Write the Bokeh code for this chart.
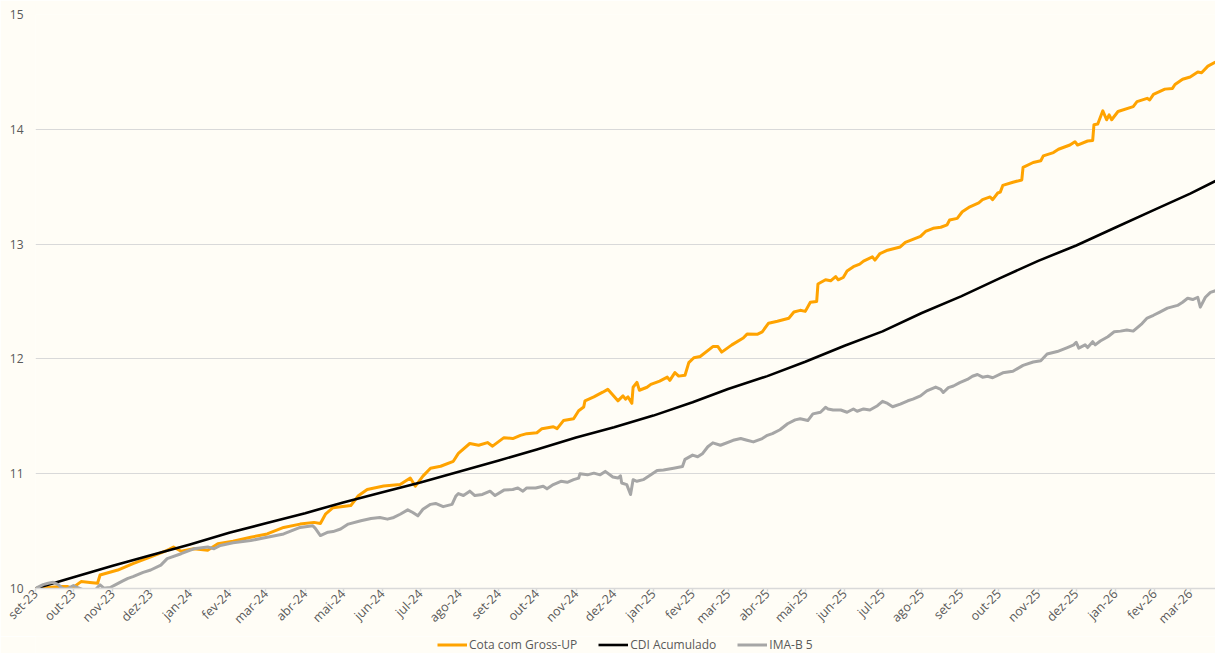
import pandas as pd
from math import pi
from bokeh.plotting import figure
from bokeh.layouts import column
from bokeh.models import Range1d, FixedTicker, Legend, LegendItem
from bokeh.embed import file_html
from bokeh.resources import INLINE

# ---------------- data ----------------
start_date = "2023-09-01"
end_day = 932  # last observation, days after start_date

month_labels = ["set-23", "out-23", "nov-23", "dez-23", "jan-24", "fev-24", "mar-24",
                "abr-24", "mai-24", "jun-24", "jul-24", "ago-24", "set-24", "out-24",
                "nov-24", "dez-24", "jan-25", "fev-25", "mar-25", "abr-25", "mai-25",
                "jun-25", "jul-25", "ago-25", "set-25", "out-25", "nov-25", "dez-25",
                "jan-26", "fev-26", "mar-26"]

y_ticks = [10, 11, 12, 13, 14, 15]

cota_days = [0, 20, 25, 29, 36, 43, 49, 51, 65, 77,
             91, 104, 109, 115, 125, 136, 144, 156, 170, 183,
             196, 209, 220, 225, 229, 235, 249, 255, 262, 275,
             288, 296, 300, 306, 312, 320, 330, 334, 343, 350,
             357, 361, 370, 377, 383, 388, 396, 400, 409, 412,
             417, 425, 429, 433, 434, 441, 448, 452, 460, 464,
             466, 468, 471, 472, 475, 477, 483, 486, 493, 499,
             501, 505, 508, 513, 516, 520, 525, 535, 539, 542,
             550, 559, 562, 570, 574, 579, 586, 595, 599, 604,
             608, 612, 617, 618, 624, 628, 632, 634, 638, 641,
             646, 651, 654, 661, 663, 667, 673, 683, 687, 693,
             699, 703, 709, 715, 720, 722, 728, 732, 738, 745,
             748, 754, 756, 760, 762, 764, 772, 779, 780, 788,
             794, 796, 804, 808, 817, 821, 823, 831, 835, 836,
             839, 843, 846, 848, 850, 855, 867, 870, 878, 880,
             883, 892, 898, 900, 906, 912, 918, 921, 926, 932]
cota_vals = [10.000, 10.017, 10.017, 10.003, 10.060, 10.052, 10.046, 10.118, 10.161, 10.217,
             10.275, 10.333, 10.361, 10.324, 10.346, 10.333, 10.389, 10.412, 10.447, 10.475,
             10.532, 10.561, 10.576, 10.567, 10.647, 10.704, 10.722, 10.808, 10.862, 10.893,
             10.905, 10.962, 10.891, 10.979, 11.048, 11.065, 11.108, 11.177, 11.263, 11.248,
             11.271, 11.240, 11.314, 11.306, 11.334, 11.349, 11.357, 11.392, 11.409, 11.392,
             11.463, 11.478, 11.549, 11.581, 11.635, 11.669, 11.710, 11.735, 11.635, 11.678,
             11.649, 11.669, 11.613, 11.753, 11.796, 11.727, 11.753, 11.778, 11.807, 11.841,
             11.813, 11.881, 11.850, 11.858, 11.967, 12.010, 12.021, 12.107, 12.107, 12.059,
             12.122, 12.182, 12.216, 12.214, 12.236, 12.311, 12.328, 12.354, 12.408, 12.423,
             12.414, 12.494, 12.500, 12.652, 12.689, 12.680, 12.717, 12.689, 12.709, 12.766,
             12.803, 12.826, 12.852, 12.889, 12.861, 12.918, 12.947, 12.975, 13.015, 13.041,
             13.067, 13.110, 13.138, 13.147, 13.168, 13.210, 13.224, 13.282, 13.325, 13.359,
             13.387, 13.411, 13.387, 13.445, 13.453, 13.511, 13.539, 13.559, 13.668, 13.711,
             13.726, 13.769, 13.797, 13.826, 13.863, 13.892, 13.863, 13.898, 13.903, 14.040,
             14.046, 14.161, 14.083, 14.126, 14.083, 14.155, 14.198, 14.241, 14.270, 14.255,
             14.304, 14.350, 14.356, 14.390, 14.436, 14.456, 14.499, 14.493, 14.550, 14.585]

cdi_days = [0, 30, 61, 91, 122, 153, 182, 213, 243, 274, 304, 335, 366, 396, 427, 457,
            488, 519, 547, 578, 608, 639, 669, 700, 731, 761, 792, 822, 853, 884, 912, 932]
cdi_vals = [10.000, 10.097, 10.198, 10.290, 10.384, 10.485, 10.568, 10.656, 10.750, 10.839,
            10.924, 11.020, 11.116, 11.210, 11.315, 11.404, 11.506, 11.623, 11.738, 11.850,
            11.975, 12.115, 12.240, 12.400, 12.545, 12.699, 12.854, 12.988, 13.145, 13.300,
            13.440, 13.550]

imab_days = [0, 6, 10, 14, 18, 21, 24, 30, 33, 39,
             46, 51, 54, 59, 63, 69, 73, 77, 85, 91,
             99, 104, 115, 125, 136, 141, 146, 156, 170, 183,
             196, 209, 219, 221, 225, 231, 235, 241, 247, 257,
             265, 272, 278, 283, 288, 294, 298, 302, 306, 312,
             316, 322, 329, 332, 334, 338, 343, 347, 353, 359,
             363, 370, 377, 381, 385, 388, 395, 401, 404, 409,
             415, 420, 425, 429, 430, 436, 441, 446, 450, 456,
             460, 462, 463, 467, 470, 472, 475, 480, 486, 491,
             496, 504, 511, 513, 519, 523, 527, 531, 535, 541,
             551, 557, 562, 567, 574, 578, 582, 588, 594, 600,
             604, 610, 614, 620, 624, 626, 630, 636, 641, 646,
             649, 654, 659, 665, 669, 673, 677, 683, 689, 693,
             699, 704, 711, 715, 717, 721, 725, 730, 736, 740,
             744, 748, 752, 756, 764, 772, 780, 788, 794, 799,
             807, 815, 820, 822, 824, 829, 831, 835, 837, 841,
             847, 852, 857, 862, 867, 874, 878, 883, 888, 894,
             902, 906, 910, 914, 918, 920, 924, 928, 932]
imab_vals = [10.000, 10.034, 10.046, 10.054, 10.034, 10.003, 9.991, 10.026, 10.009, 9.983,
             9.974, 10.032, 10.003, 10.009, 10.032, 10.066, 10.088, 10.103, 10.140, 10.161,
             10.204, 10.260, 10.303, 10.346, 10.361, 10.346, 10.375, 10.398, 10.418, 10.447,
             10.475, 10.532, 10.547, 10.524, 10.461, 10.490, 10.496, 10.518, 10.561, 10.590,
             10.610, 10.619, 10.604, 10.619, 10.647, 10.685, 10.662, 10.633, 10.690, 10.733,
             10.741, 10.713, 10.733, 10.805, 10.827, 10.810, 10.848, 10.810, 10.819, 10.848,
             10.810, 10.857, 10.862, 10.876, 10.848, 10.876, 10.876, 10.891, 10.868, 10.905,
             10.934, 10.925, 10.948, 10.962, 10.999, 10.990, 11.005, 10.990, 11.020, 10.971,
             10.962, 10.982, 10.919, 10.905, 10.819, 10.948, 10.934, 10.948, 10.990, 11.028,
             11.033, 11.048, 11.062, 11.125, 11.162, 11.148, 11.177, 11.235, 11.269, 11.248,
             11.291, 11.306, 11.291, 11.277, 11.306, 11.334, 11.349, 11.383, 11.435, 11.469,
             11.478, 11.463, 11.521, 11.535, 11.578, 11.564, 11.555, 11.555, 11.535, 11.564,
             11.544, 11.564, 11.555, 11.592, 11.630, 11.612, 11.583, 11.606, 11.635, 11.649,
             11.678, 11.721, 11.755, 11.735, 11.707, 11.750, 11.764, 11.793, 11.821, 11.849,
             11.864, 11.841, 11.849, 11.836, 11.879, 11.893, 11.944, 11.973, 11.984, 12.042,
             12.064, 12.099, 12.122, 12.145, 12.094, 12.122, 12.099, 12.150, 12.122, 12.156,
             12.193, 12.236, 12.242, 12.251, 12.242, 12.308, 12.356, 12.380, 12.408, 12.442,
             12.466, 12.494, 12.528, 12.517, 12.537, 12.451, 12.537, 12.580, 12.594]

series_names = ["Cota com Gross-UP", "CDI Acumulado", "IMA-B 5"]
series_colors = ["#FFA300", "#000000", "#A6A6A6"]

# ---------------- build ----------------
t0 = pd.Timestamp(start_date)


def to_dates(days):
    return [t0 + pd.Timedelta(days=int(d)) for d in days]


month_starts = pd.date_range(start_date, periods=len(month_labels), freq="MS")
tick_ms = [int(t.value // 10**6) for t in month_starts]
overrides = {ms: lab for ms, lab in zip(tick_ms, month_labels)}

BG = "#FFFDF6"
TXT = "#595959"
GRID = "#D9D9D9"
FONT = "Open Sans"
LW = [3, 2.6, 3]

p = figure(width=1215, height=636, x_axis_type="datetime",
           x_range=Range1d(t0, t0 + pd.Timedelta(days=end_day)),
           y_range=Range1d(10, 15),
           output_backend="svg", toolbar_location=None,
           background_fill_color=BG, border_fill_color=BG,
           outline_line_color=None,
           min_border_left=35, min_border_right=0,
           min_border_top=14, min_border_bottom=30)

p.line(to_dates(cota_days), cota_vals, line_width=LW[0],
       line_color=series_colors[0], line_join="round")
p.line(to_dates(cdi_days), cdi_vals, line_width=LW[1],
       line_color=series_colors[1], line_join="round")
p.line(to_dates(imab_days), imab_vals, line_width=LW[2],
       line_color=series_colors[2], line_join="round")

# grid
p.xgrid.visible = False
p.ygrid.ticker = FixedTicker(ticks=y_ticks)
p.ygrid.grid_line_color = GRID
p.ygrid.grid_line_width = 1

# y axis
p.yaxis.ticker = FixedTicker(ticks=y_ticks)
p.yaxis.axis_line_color = None
p.yaxis.major_tick_line_color = None
p.yaxis.minor_tick_line_color = None
p.yaxis.major_tick_out = 0
p.yaxis.major_label_standoff = 12
p.yaxis.major_label_text_font = FONT
p.yaxis.major_label_text_font_size = "12px"
p.yaxis.major_label_text_color = TXT

# x axis
p.xaxis.ticker = FixedTicker(ticks=tick_ms)
p.xaxis.major_label_overrides = overrides
p.xaxis.major_label_orientation = pi / 4
p.xaxis.axis_line_color = GRID
p.xaxis.axis_line_width = 1.5
p.xaxis.major_tick_line_color = GRID
p.xaxis.major_tick_line_width = 1.5
p.xaxis.major_tick_out = 3
p.xaxis.major_tick_in = 0
p.xaxis.minor_tick_line_color = None
p.xaxis.major_label_standoff = 0
p.xaxis.major_label_text_font = FONT
p.xaxis.major_label_text_font_size = "12.5px"
p.xaxis.major_label_text_line_height = 0.8
p.xaxis.major_label_text_color = TXT

# ---------------- legend strip ----------------
lg = figure(width=1215, height=17, output_backend="svg", toolbar_location=None,
            x_range=Range1d(0, 1), y_range=Range1d(0, 1),
            x_axis_location=None, y_axis_location=None,
            background_fill_color=BG, border_fill_color=BG,
            outline_line_color=None,
            min_border_left=0, min_border_right=0,
            min_border_top=0, min_border_bottom=0)
lg.xgrid.visible = False
lg.ygrid.visible = False
items = []
for name, col, lw in zip(series_names, series_colors, LW):
    r = lg.line([float("nan")], [float("nan")], line_width=lw, line_color=col)
    items.append(LegendItem(label=name, renderers=[r]))
legend = Legend(items=items, orientation="horizontal", location=(402, 0),
                spacing=21, glyph_width=30, glyph_height=15, label_standoff=2,
                padding=0, margin=0, border_line_color=None,
                background_fill_alpha=0,
                label_text_font=FONT, label_text_font_size="12px",
                label_text_color=TXT)
lg.add_layout(legend)

layout = column(p, lg, spacing=0)
open("out.html", "w").write(file_html(layout, INLINE))
